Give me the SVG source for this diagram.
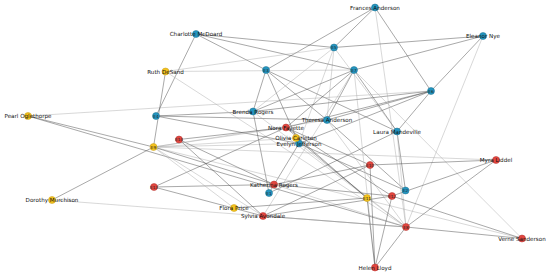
<svg xmlns="http://www.w3.org/2000/svg" width="550" height="274" viewBox="0 0 550 274">
<style>
.e line{stroke:#4a4a4a;stroke-width:0.6;stroke-opacity:0.8}
.e line.l{stroke:#a8a8a8;stroke-opacity:0.75}
.b{fill:#2495bf;stroke:#1b6f8f;stroke-width:0.5}
.r{fill:#e2463f;stroke:#b03530;stroke-width:0.5}
.y{fill:#f4c21e;stroke:#c49a12;stroke-width:0.5}
text{font-family:"DejaVu Sans",sans-serif;font-size:5.6px;fill:#111;text-anchor:middle;dominant-baseline:central}
text.ev{font-size:4.2px;fill:#222}
</style>
<rect width="550" height="274" fill="#fff"/>
<g id="connectors" class="e">
<!-- Evelyn 299,143.5 : E1 E2 E3 E4 E5 E6 E8 E9 -->
<line x1="299" y1="143.5" x2="269" y2="193"/>
<line x1="299" y1="143.5" x2="405.5" y2="190.5"/>
<line x1="299" y1="143.5" x2="266" y2="70"/>
<line x1="299" y1="143.5" x2="156" y2="116"/>
<line class="l" x1="299" y1="143.5" x2="334" y2="47.5"/>
<line x1="299" y1="143.5" x2="431" y2="91"/>
<line class="l" x1="299" y1="143.5" x2="406" y2="227"/>
<line class="l" x1="299" y1="143.5" x2="153.5" y2="147"/>
<!-- Laura 397,131.5 : E1 E2 E3 E5 E6 E7 E8 -->
<line x1="397" y1="131.5" x2="269" y2="193"/>
<line x1="397" y1="131.5" x2="405.5" y2="190.5"/>
<line x1="397" y1="131.5" x2="266" y2="70"/>
<line class="l" x1="397" y1="131.5" x2="334" y2="47.5"/>
<line x1="397" y1="131.5" x2="431" y2="91"/>
<line x1="397" y1="131.5" x2="354" y2="70"/>
<line class="l" x1="397" y1="131.5" x2="406" y2="227"/>
<!-- Theresa 327,120 : E2 E3 E4 E5 E6 E7 E8 E9 -->
<line x1="327" y1="120" x2="405.5" y2="190.5"/>
<line x1="327" y1="120" x2="266" y2="70"/>
<line x1="327" y1="120" x2="156" y2="116"/>
<line class="l" x1="327" y1="120" x2="334" y2="47.5"/>
<line x1="327" y1="120" x2="431" y2="91"/>
<line x1="327" y1="120" x2="354" y2="70"/>
<line class="l" x1="327" y1="120" x2="406" y2="227"/>
<line class="l" x1="327" y1="120" x2="153.5" y2="147"/>
<!-- Brenda 253,111.5 : E1 E3 E4 E5 E6 E7 E8 -->
<line x1="253" y1="111.5" x2="269" y2="193"/>
<line x1="253" y1="111.5" x2="266" y2="70"/>
<line x1="253" y1="111.5" x2="156" y2="116"/>
<line class="l" x1="253" y1="111.5" x2="334" y2="47.5"/>
<line x1="253" y1="111.5" x2="431" y2="91"/>
<line x1="253" y1="111.5" x2="354" y2="70"/>
<line class="l" x1="253" y1="111.5" x2="406" y2="227"/>
<!-- Charlotte 196,34 : E3 E4 E5 E7 -->
<line x1="196" y1="34" x2="266" y2="70"/>
<line x1="196" y1="34" x2="156" y2="116"/>
<line x1="196" y1="34" x2="334" y2="47.5"/>
<line x1="196" y1="34" x2="354" y2="70"/>
<!-- Frances 375,7.5 : E3 E5 E6 E8 -->
<line x1="375" y1="7.5" x2="266" y2="70"/>
<line x1="375" y1="7.5" x2="334" y2="47.5"/>
<line x1="375" y1="7.5" x2="431" y2="91"/>
<line class="l" x1="375" y1="7.5" x2="406" y2="227"/>
<!-- Eleanor 483,36 : E5 E6 E7 E8 -->
<line x1="483" y1="36" x2="334" y2="47.5"/>
<line x1="483" y1="36" x2="431" y2="91"/>
<line x1="483" y1="36" x2="354" y2="70"/>
<line class="l" x1="483" y1="36" x2="406" y2="227"/>
<!-- Pearl 28,116 : E6 E8 E9 -->
<line class="l" x1="28" y1="116" x2="431" y2="91"/>
<line x1="28" y1="116" x2="406" y2="227"/>
<line x1="28" y1="116" x2="153.5" y2="147"/>
<!-- Ruth 165.5,71.5 : E5 E7 E8 E9 -->
<line class="l" x1="165.5" y1="71.5" x2="334" y2="47.5"/>
<line class="l" x1="165.5" y1="71.5" x2="354" y2="70"/>
<line class="l" x1="165.5" y1="71.5" x2="406" y2="227"/>
<line x1="165.5" y1="71.5" x2="153.5" y2="147"/>
<!-- Verne 522,238.5 : E7 E8 E9 E12 -->
<line class="l" x1="522" y1="238.5" x2="354" y2="70"/>
<line x1="522" y1="238.5" x2="406" y2="227"/>
<line class="l" x1="522" y1="238.5" x2="153.5" y2="147"/>
<line x1="522" y1="238.5" x2="392" y2="196"/>
<!-- Myra 496,160 : E8 E9 E10 E12 -->
<line x1="496" y1="160" x2="406" y2="227"/>
<line class="l" x1="496" y1="160" x2="153.5" y2="147"/>
<line x1="496" y1="160" x2="370" y2="165"/>
<line x1="496" y1="160" x2="392" y2="196"/>
<!-- Katherina 274,184.5 : E8 E9 E10 E12 E13 E14 -->
<line class="l" x1="274" y1="184.5" x2="406" y2="227"/>
<line x1="274" y1="184.5" x2="153.5" y2="147"/>
<line x1="274" y1="184.5" x2="370" y2="165"/>
<line x1="274" y1="184.5" x2="392" y2="196"/>
<line x1="274" y1="184.5" x2="154" y2="187"/>
<line x1="274" y1="184.5" x2="179" y2="139.5"/>
<!-- Sylvia 263,216 : E7 E8 E9 E10 E12 E13 E14 -->
<line class="l" x1="263" y1="216" x2="354" y2="70"/>
<line x1="263" y1="216" x2="406" y2="227"/>
<line class="l" x1="263" y1="216" x2="153.5" y2="147"/>
<line x1="263" y1="216" x2="370" y2="165"/>
<line x1="263" y1="216" x2="392" y2="196"/>
<line x1="263" y1="216" x2="154" y2="187"/>
<line x1="263" y1="216" x2="179" y2="139.5"/>
<!-- Nora 286,127.5 : E6 E7 E9 E10 E11 E12 E13 E14 -->
<line x1="286" y1="127.5" x2="431" y2="91"/>
<line x1="286" y1="127.5" x2="354" y2="70"/>
<line class="l" x1="286" y1="127.5" x2="153.5" y2="147"/>
<line x1="286" y1="127.5" x2="370" y2="165"/>
<line x1="286" y1="127.5" x2="367" y2="198"/>
<line x1="286" y1="127.5" x2="392" y2="196"/>
<line x1="286" y1="127.5" x2="154" y2="187"/>
<line x1="286" y1="127.5" x2="179" y2="139.5"/>
<!-- Helen 375,267.5 : E7 E8 E10 E11 E12 -->
<line class="l" x1="375" y1="267.5" x2="354" y2="70"/>
<line x1="375" y1="267.5" x2="406" y2="227"/>
<line x1="375" y1="267.5" x2="370" y2="165"/>
<line x1="375" y1="267.5" x2="367" y2="198"/>
<line x1="375" y1="267.5" x2="392" y2="196"/>
<!-- Dorothy 52,200 : E8 E9 -->
<line class="l" x1="52" y1="200" x2="406" y2="227"/>
<line x1="52" y1="200" x2="153.5" y2="147"/>
<!-- Olivia 296,138 : E9 E11 -->
<line class="l" x1="296" y1="138" x2="153.5" y2="147"/>
<line x1="296" y1="138" x2="367" y2="198"/>
<!-- Flora 234,208 : E9 E11 -->
<line class="l" x1="234" y1="208" x2="153.5" y2="147"/>
<line x1="234" y1="208" x2="367" y2="198"/>
</g>
<g id="nodes">
<g id="n-evelyn"><circle class="b" cx="299" cy="143.5" r="3.5"/><text x="299" y="143.5">Evelyn Jefferson</text></g>
<g id="n-laura"><circle class="b" cx="397" cy="131.5" r="3.5"/><text x="397" y="131.5">Laura Mandeville</text></g>
<g id="n-theresa"><circle class="b" cx="327" cy="120" r="3.5"/><text x="327" y="120">Theresa Anderson</text></g>
<g id="n-brenda"><circle class="b" cx="253" cy="111.5" r="3.5"/><text x="253" y="111.5">Brenda Rogers</text></g>
<g id="n-charlotte"><circle class="b" cx="196" cy="34" r="3.5"/><text x="196" y="34">Charlotte McDoard</text></g>
<g id="n-frances"><circle class="b" cx="375" cy="7.5" r="3.5"/><text x="375" y="7.5">Frances Anderson</text></g>
<g id="n-eleanor"><circle class="b" cx="483" cy="36" r="3.5"/><text x="483" y="36">Eleanor Nye</text></g>
<g id="n-pearl"><circle class="y" cx="28" cy="116" r="3.5"/><text x="28" y="116">Pearl Oglethorpe</text></g>
<g id="n-ruth"><circle class="y" cx="165.5" cy="71.5" r="3.5"/><text x="165.5" y="71.5">Ruth DeSand</text></g>
<g id="n-verne"><circle class="r" cx="522" cy="238.5" r="3.5"/><text x="522" y="238.5">Verne Sanderson</text></g>
<g id="n-myra"><circle class="r" cx="496" cy="160" r="3.5"/><text x="496" y="160">Myra Liddel</text></g>
<g id="n-katherina"><circle class="r" cx="274" cy="184.5" r="3.5"/><text x="274" y="184.5">Katherina Rogers</text></g>
<g id="n-sylvia"><circle class="r" cx="263" cy="216" r="3.5"/><text x="263" y="216">Sylvia Avondale</text></g>
<g id="n-nora"><circle class="r" cx="286" cy="127.5" r="3.5"/><text x="286" y="127.5">Nora Fayette</text></g>
<g id="n-helen"><circle class="r" cx="375" cy="267.5" r="3.5"/><text x="375" y="267.5">Helen Lloyd</text></g>
<g id="n-dorothy"><circle class="y" cx="52" cy="200" r="3.5"/><text x="52" y="200">Dorothy Murchison</text></g>
<g id="n-olivia"><circle class="y" cx="296" cy="138" r="3.5"/><text x="296" y="138">Olivia Carleton</text></g>
<g id="n-flora"><circle class="y" cx="234" cy="208" r="3.5"/><text x="234" y="208">Flora Price</text></g>
<g id="n-e1"><circle class="b" cx="269" cy="193" r="3.5"/><text class="ev" x="269" y="193">E1</text></g>
<g id="n-e2"><circle class="b" cx="405.5" cy="190.5" r="3.5"/><text class="ev" x="405.5" y="190.5">E2</text></g>
<g id="n-e3"><circle class="b" cx="266" cy="70" r="3.5"/><text class="ev" x="266" y="70">E3</text></g>
<g id="n-e4"><circle class="b" cx="156" cy="116" r="3.5"/><text class="ev" x="156" y="116">E4</text></g>
<g id="n-e5"><circle class="b" cx="334" cy="47.5" r="3.5"/><text class="ev" x="334" y="47.5">E5</text></g>
<g id="n-e6"><circle class="b" cx="431" cy="91" r="3.5"/><text class="ev" x="431" y="91">E6</text></g>
<g id="n-e7"><circle class="b" cx="354" cy="70" r="3.5"/><text class="ev" x="354" y="70">E7</text></g>
<g id="n-e8"><circle class="r" cx="406" cy="227" r="3.5"/><text class="ev" x="406" y="227">E8</text></g>
<g id="n-e9"><circle class="y" cx="153.5" cy="147" r="3.5"/><text class="ev" x="153.5" y="147">E9</text></g>
<g id="n-e10"><circle class="r" cx="370" cy="165" r="3.5"/><text class="ev" x="370" y="165">E10</text></g>
<g id="n-e11"><circle class="y" cx="367" cy="198" r="3.5"/><text class="ev" x="367" y="198">E11</text></g>
<g id="n-e12"><circle class="r" cx="392" cy="196" r="3.5"/><text class="ev" x="392" y="196">E12</text></g>
<g id="n-e13"><circle class="r" cx="154" cy="187" r="3.5"/><text class="ev" x="154" y="187">E13</text></g>
<g id="n-e14"><circle class="r" cx="179" cy="139.5" r="3.5"/><text class="ev" x="179" y="139.5">E14</text></g>
</g>
</svg>
